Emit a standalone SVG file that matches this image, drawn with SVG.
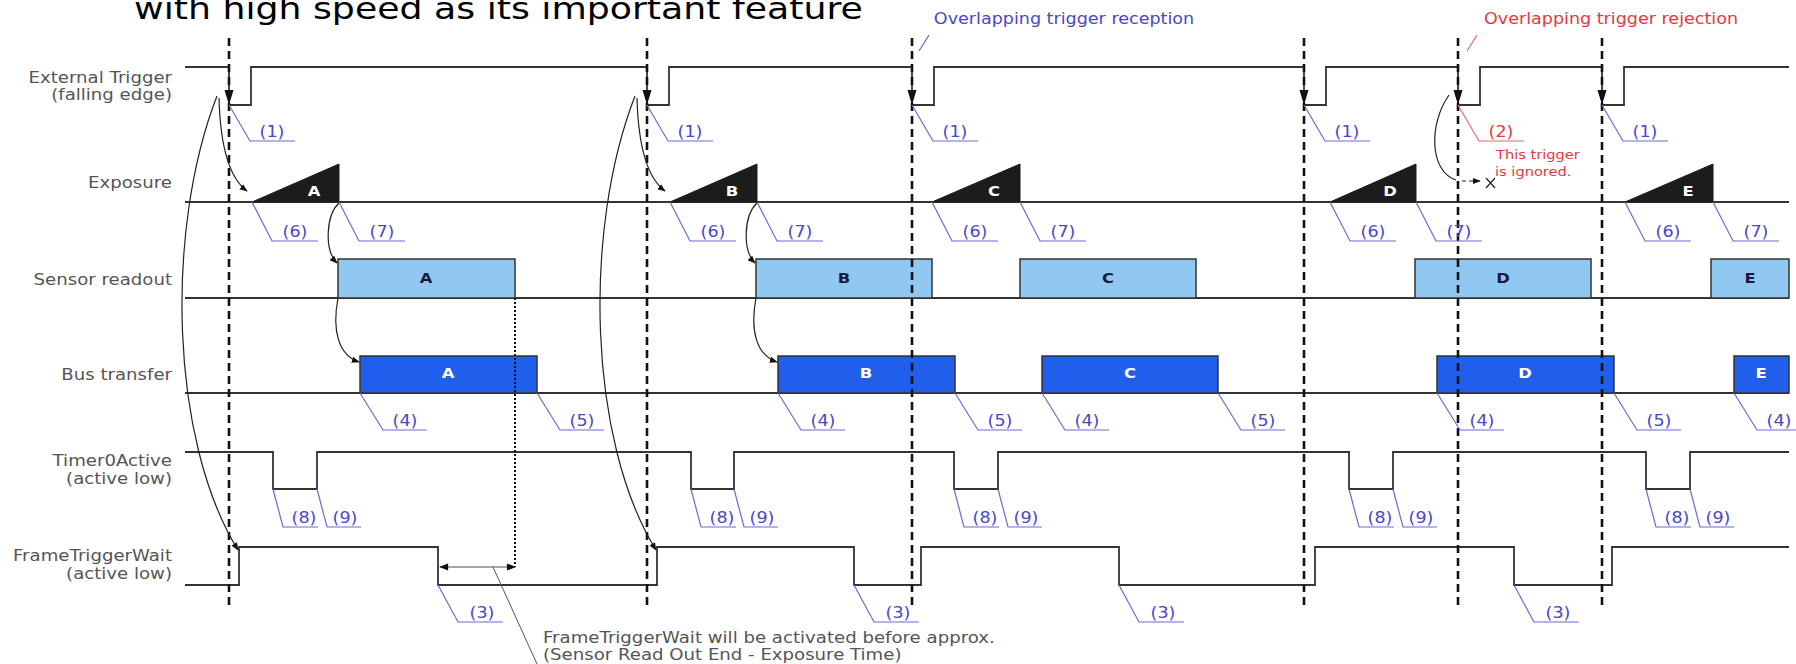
<svg xmlns="http://www.w3.org/2000/svg" width="1796" height="664" viewBox="0 0 1796 664">
<style>
text{font-family:"DejaVu Sans",Verdana,"Liberation Sans",sans-serif}
.title{font-size:31px;fill:#000}
.lbl{font-size:15.5px;fill:#555;text-anchor:end}
.num{font-size:15px;fill:#4848c8;text-anchor:middle}
.numr{font-size:15px;fill:#e8383c;text-anchor:middle}
.note{font-size:15.5px;fill:#555}
.sig{fill:none;stroke:#333;stroke-width:1.8}
.dash{stroke:#111;stroke-width:2.6;stroke-dasharray:8 5}
.ldr{fill:none;stroke:#6a6ad4;stroke-width:1.2}
.ldrr{fill:none;stroke:#e86a6a;stroke-width:1.2}
.sens{fill:#90c8f2;stroke:#333;stroke-width:1.5}
.bus{fill:#1f5fec;stroke:#333;stroke-width:1.5}
.tri{fill:#1c1c1c;stroke:#1c1c1c;stroke-width:1}
.ls{font-size:14px;font-weight:bold;fill:#1a1a40;text-anchor:middle}
.lw{font-size:14px;font-weight:bold;fill:#fff;text-anchor:middle}
.cur{fill:none;stroke:#222;stroke-width:1.2}
</style>
<defs>
<marker id="ah" viewBox="0 0 10 10" refX="9" refY="5" markerWidth="8" markerHeight="8" markerUnits="userSpaceOnUse" orient="auto-start-reverse"><path d="M0,1 L10,5 L0,9 z" fill="#111"/></marker>
<marker id="ah2" viewBox="0 0 10 10" refX="9" refY="5" markerWidth="11" markerHeight="9" markerUnits="userSpaceOnUse" orient="auto-start-reverse"><path d="M0,1 L10,5 L0,9 z" fill="#111"/></marker>
</defs>
<rect width="1796" height="664" fill="#fff"/>

<g id="title"><text class="title" transform="matrix(1.17 0 0 1 134 19)">with high speed as its important feature</text></g>

<g id="row-labels">
<text class="lbl" transform="matrix(1.17 0 0 1 172 83)">External Trigger</text>
<text class="lbl" transform="matrix(1.17 0 0 1 172 100)">(falling edge)</text>
<text class="lbl" transform="matrix(1.17 0 0 1 172 188)">Exposure</text>
<text class="lbl" transform="matrix(1.17 0 0 1 172 285)">Sensor readout</text>
<text class="lbl" transform="matrix(1.17 0 0 1 172 380)">Bus transfer</text>
<text class="lbl" transform="matrix(1.17 0 0 1 172 466)">Timer0Active</text>
<text class="lbl" transform="matrix(1.17 0 0 1 172 484)">(active low)</text>
<text class="lbl" transform="matrix(1.17 0 0 1 172 561)">FrameTriggerWait</text>
<text class="lbl" transform="matrix(1.17 0 0 1 172 579)">(active low)</text>
</g>

<g id="external-trigger">
<path class="sig" d="M185,67 H229 V105 H251 V67 H647 V105 H669 V67 H912 V105 H934 V67 H1304 V105 H1326 V67 H1458 V105 H1480 V67 H1602 V105 H1624 V67 H1789"/>
</g>

<g id="exposure">
<path class="sig" d="M185,202 H1789"/>
<path class="tri" d="M252,202 L339,164 L339,202 Z"/>
<path class="tri" d="M670,202 L757,164 L757,202 Z"/>
<path class="tri" d="M932,202 L1020,164 L1020,202 Z"/>
<path class="tri" d="M1330,202 L1416,164 L1416,202 Z"/>
<path class="tri" d="M1625,202 L1713,164 L1713,202 Z"/>
<text class="lw" transform="matrix(1.17 0 0 1 314 196)">A</text>
<text class="lw" transform="matrix(1.17 0 0 1 732 196)">B</text>
<text class="lw" transform="matrix(1.17 0 0 1 994 196)">C</text>
<text class="lw" transform="matrix(1.17 0 0 1 1390 196)">D</text>
<text class="lw" transform="matrix(1.17 0 0 1 1688 196)">E</text>
</g>

<g id="sensor-readout">
<path class="sig" d="M185,298 H1789"/>
<rect class="sens" x="338" y="259" width="177" height="39"/>
<rect class="sens" x="756" y="259" width="176" height="39"/>
<rect class="sens" x="1020" y="259" width="176" height="39"/>
<rect class="sens" x="1415" y="259" width="176" height="39"/>
<rect class="sens" x="1711" y="259" width="78" height="39"/>
<text class="ls" transform="matrix(1.17 0 0 1 426 283)">A</text>
<text class="ls" transform="matrix(1.17 0 0 1 844 283)">B</text>
<text class="ls" transform="matrix(1.17 0 0 1 1108 283)">C</text>
<text class="ls" transform="matrix(1.17 0 0 1 1503 283)">D</text>
<text class="ls" transform="matrix(1.17 0 0 1 1750 283)">E</text>
</g>

<g id="bus-transfer">
<path class="sig" d="M185,393 H1789"/>
<rect class="bus" x="360" y="356" width="177" height="37"/>
<rect class="bus" x="778" y="356" width="177" height="37"/>
<rect class="bus" x="1042" y="356" width="176" height="37"/>
<rect class="bus" x="1437" y="356" width="177" height="37"/>
<rect class="bus" x="1734" y="356" width="55" height="37"/>
<text class="lw" transform="matrix(1.17 0 0 1 448 378)">A</text>
<text class="lw" transform="matrix(1.17 0 0 1 866 378)">B</text>
<text class="lw" transform="matrix(1.17 0 0 1 1130 378)">C</text>
<text class="lw" transform="matrix(1.17 0 0 1 1525 378)">D</text>
<text class="lw" transform="matrix(1.17 0 0 1 1761 378)">E</text>
</g>

<g id="timer0active">
<path class="sig" d="M185,452 H273 V489 H317 V452 H691 V489 H734 V452 H954 V489 H998 V452 H1349 V489 H1393 V452 H1646 V489 H1690 V452 H1789"/>
</g>

<g id="frametriggerwait">
<path class="sig" d="M185,585 H239 V547 H438 V585 H657 V547 H854 V585 H921 V547 H1119 V585 H1315 V547 H1514 V585 H1612 V547 H1789"/>
</g>

<g id="trigger-lines">
<line class="dash" x1="229" y1="38" x2="229" y2="606"/>
<line class="dash" x1="647" y1="38" x2="647" y2="606"/>
<line class="dash" x1="912" y1="38" x2="912" y2="606"/>
<line class="dash" x1="1304" y1="38" x2="1304" y2="606"/>
<line class="dash" x1="1458" y1="38" x2="1458" y2="606"/>
<line class="dash" x1="1602" y1="38" x2="1602" y2="606"/>
<path fill="#111" d="M224.5,90 H233.5 L229,105 Z M642.5,90 H651.5 L647,105 Z M907.5,90 H916.5 L912,105 Z M1299.5,90 H1308.5 L1304,105 Z M1453.5,90 H1462.5 L1458,105 Z M1597.5,90 H1606.5 L1602,105 Z"/>
</g>

<g id="annotations">
<text class="num" transform="matrix(1.17 0 0 1 1064 24)" style="text-anchor:middle">Overlapping trigger reception</text>
<path class="ldr" d="M919,51 L929,35"/>
<text class="numr" transform="matrix(1.17 0 0 1 1611 24)">Overlapping trigger rejection</text>
<path class="ldrr" d="M1467,51 L1477,35"/>
<text class="numr" style="font-size:12.5px;text-anchor:start" transform="matrix(1.17 0 0 1 1496 159)">This trigger</text>
<text class="numr" style="font-size:12.5px;text-anchor:start" transform="matrix(1.17 0 0 1 1495 176)">is ignored.</text>
<text class="note" transform="matrix(1.17 0 0 1 543 643)">FrameTriggerWait will be activated before approx.</text>
<text class="note" transform="matrix(1.17 0 0 1 543 660)">(Sensor Read Out End - Exposure Time)</text>
</g>

<g id="callouts">
<path class="ldr" d="M229,105 L250,141 H295 M647,105 L668,141 H713 M912,105 L933,141 H978 M1304,105 L1325,141 H1370 M1602,105 L1623,141 H1668"/>
<path class="ldrr" d="M1458,105 L1479,141 H1524"/>
<text class="num" transform="matrix(1.17 0 0 1 272 137)">(1)</text>
<text class="num" transform="matrix(1.17 0 0 1 690 137)">(1)</text>
<text class="num" transform="matrix(1.17 0 0 1 955 137)">(1)</text>
<text class="num" transform="matrix(1.17 0 0 1 1347 137)">(1)</text>
<text class="num" transform="matrix(1.17 0 0 1 1645 137)">(1)</text>
<text class="numr" transform="matrix(1.17 0 0 1 1501 137)">(2)</text>

<path class="ldr" d="M252,202 L272,241 H318 M339,202 L359,241 H405 M670,202 L690,241 H736 M757,202 L777,241 H823 M932,202 L952,241 H998 M1020,202 L1040,241 H1086 M1330,202 L1350,241 H1396 M1416,202 L1436,241 H1482 M1625,202 L1645,241 H1691 M1713,202 L1733,241 H1779"/>
<text class="num" transform="matrix(1.17 0 0 1 295 237)">(6)</text>
<text class="num" transform="matrix(1.17 0 0 1 382 237)">(7)</text>
<text class="num" transform="matrix(1.17 0 0 1 713 237)">(6)</text>
<text class="num" transform="matrix(1.17 0 0 1 800 237)">(7)</text>
<text class="num" transform="matrix(1.17 0 0 1 975 237)">(6)</text>
<text class="num" transform="matrix(1.17 0 0 1 1063 237)">(7)</text>
<text class="num" transform="matrix(1.17 0 0 1 1373 237)">(6)</text>
<text class="num" transform="matrix(1.17 0 0 1 1459 237)">(7)</text>
<text class="num" transform="matrix(1.17 0 0 1 1668 237)">(6)</text>
<text class="num" transform="matrix(1.17 0 0 1 1756 237)">(7)</text>

<path class="ldr" d="M360,393 L383,430 H427 M537,393 L560,430 H604 M778,393 L801,430 H845 M955,393 L978,430 H1022 M1042,393 L1065,430 H1109 M1218,393 L1241,430 H1285 M1437,393 L1460,430 H1504 M1614,393 L1637,430 H1681 M1734,393 L1757,430 H1801"/>
<text class="num" transform="matrix(1.17 0 0 1 405 426)">(4)</text>
<text class="num" transform="matrix(1.17 0 0 1 582 426)">(5)</text>
<text class="num" transform="matrix(1.17 0 0 1 823 426)">(4)</text>
<text class="num" transform="matrix(1.17 0 0 1 1000 426)">(5)</text>
<text class="num" transform="matrix(1.17 0 0 1 1087 426)">(4)</text>
<text class="num" transform="matrix(1.17 0 0 1 1263 426)">(5)</text>
<text class="num" transform="matrix(1.17 0 0 1 1482 426)">(4)</text>
<text class="num" transform="matrix(1.17 0 0 1 1659 426)">(5)</text>
<text class="num" transform="matrix(1.17 0 0 1 1779 426)">(4)</text>

<path class="ldr" d="M273,489 L283,527 H318 M317,489 L327,527 H361 M691,489 L701,527 H736 M734,489 L744,527 H778 M954,489 L964,527 H999 M998,489 L1008,527 H1042 M1349,489 L1359,527 H1394 M1393,489 L1403,527 H1437 M1646,489 L1656,527 H1691 M1690,489 L1700,527 H1734"/>
<text class="num" transform="matrix(1.17 0 0 1 304 523)">(8)</text>
<text class="num" transform="matrix(1.17 0 0 1 345 523)">(9)</text>
<text class="num" transform="matrix(1.17 0 0 1 722 523)">(8)</text>
<text class="num" transform="matrix(1.17 0 0 1 762 523)">(9)</text>
<text class="num" transform="matrix(1.17 0 0 1 985 523)">(8)</text>
<text class="num" transform="matrix(1.17 0 0 1 1026 523)">(9)</text>
<text class="num" transform="matrix(1.17 0 0 1 1380 523)">(8)</text>
<text class="num" transform="matrix(1.17 0 0 1 1421 523)">(9)</text>
<text class="num" transform="matrix(1.17 0 0 1 1677 523)">(8)</text>
<text class="num" transform="matrix(1.17 0 0 1 1718 523)">(9)</text>

<path class="ldr" d="M438,585 L458,622 H503 M854,585 L874,622 H919 M1119,585 L1139,622 H1184 M1514,585 L1534,622 H1579"/>
<text class="num" transform="matrix(1.17 0 0 1 482 618)">(3)</text>
<text class="num" transform="matrix(1.17 0 0 1 898 618)">(3)</text>
<text class="num" transform="matrix(1.17 0 0 1 1163 618)">(3)</text>
<text class="num" transform="matrix(1.17 0 0 1 1558 618)">(3)</text>
</g>

<g id="connectors">
<path class="cur" d="M219,98 Q221,172 247,191" marker-end="url(#ah)"/>
<path class="cur" d="M217,96 C165,230 170,440 238,550" marker-end="url(#ah)"/>
<path class="cur" d="M637,98 Q639,172 665,191" marker-end="url(#ah)"/>
<path class="cur" d="M635,96 C583,230 588,440 656,550" marker-end="url(#ah)"/>
<path class="cur" d="M339,203 C326,215 324,250 337,263" marker-end="url(#ah)"/>
<path class="cur" d="M338,298 C332,330 338,355 359,362" marker-end="url(#ah)"/>
<path class="cur" d="M757,203 C744,215 742,250 755,263" marker-end="url(#ah)"/>
<path class="cur" d="M756,298 C750,330 756,355 777,362" marker-end="url(#ah)"/>
<path class="cur" d="M1449,95 C1428,125 1430,172 1456,180"/>
<path class="cur" d="M1462,181 H1480" stroke-dasharray="4 3" marker-end="url(#ah)"/>
<path class="cur" d="M1486,178 L1495,188 M1495,178 L1486,188"/>
<path d="M515,298 V567" fill="none" stroke="#111" stroke-width="2" stroke-dasharray="2 2"/>
<path d="M440,567 H515" fill="none" stroke="#888" stroke-width="1.5" marker-start="url(#ah2)" marker-end="url(#ah2)"/>
<path d="M493,567 L537,664" fill="none" stroke="#555" stroke-width="1"/>
</g>
</svg>
